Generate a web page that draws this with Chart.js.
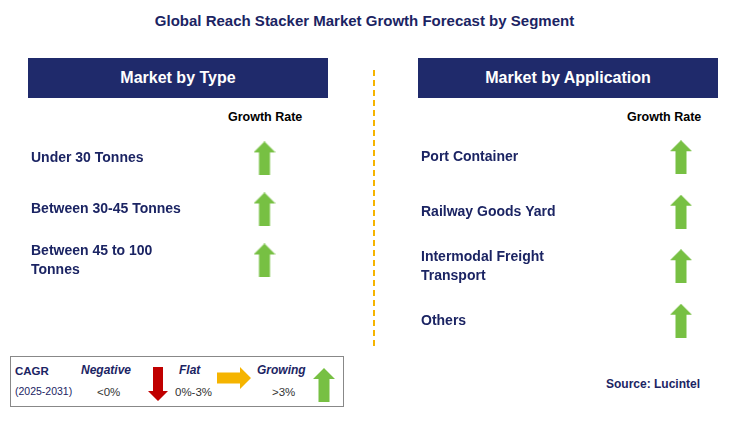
<!DOCTYPE html>
<html><head><meta charset="utf-8">
<script src="https://cdn.jsdelivr.net/npm/chart.js@4.4.0/dist/chart.umd.min.js"></script>
<style>
body{margin:0;width:729px;height:428px;background:#fff;font-family:"Liberation Sans",Arial,sans-serif;position:relative;overflow:hidden;color:#1b2463}
.abs{position:absolute}
.title{left:0;width:729px;top:12px;text-align:center;font-weight:bold;font-size:15px}
.hdr{background:#1f2a6b;color:#fff;font-weight:bold;font-size:16px;text-align:center;line-height:40px;height:40px;top:58px;width:300px}
.gr{font-weight:bold;font-size:12.5px;color:#000;top:110px}
.leg{left:10px;top:356px;width:332px;height:49px;border:1px solid #888}
.leg span{position:absolute;font-size:11.5px}
</style></head><body>
<div class="abs title">Global Reach Stacker Market Growth Forecast by Segment</div>
<div class="abs hdr" style="left:28px">Market by Type</div>
<div class="abs hdr" style="left:418px">Market by Application</div>
<div class="abs gr" style="left:228px">Growth Rate</div>
<div class="abs gr" style="left:627px">Growth Rate</div>
<div class="abs" style="left:373px;top:70px;height:276px;border-left:2px dashed #f5b400"></div>
<div class="abs" style="left:31px;top:114px;width:288px;height:190px"><canvas id="c1"></canvas></div>
<div class="abs" style="left:421px;top:112px;width:316px;height:254px"><canvas id="c2"></canvas></div>
<div class="abs leg">
 <span style="left:4px;top:8px;font-weight:bold">CAGR</span>
 <span style="left:4px;top:28px;font-size:10.5px">(2025-2031)</span>
 <span style="left:70px;top:6px;font-weight:bold;font-style:italic;font-size:12px">Negative</span>
 <span style="left:86px;top:29px;color:#333">&lt;0%</span>
 <canvas id="ld" width="20" height="34" class="abs" style="left:137px;top:10px"></canvas>
 <span style="left:168px;top:6px;font-weight:bold;font-style:italic;font-size:12px">Flat</span>
 <span style="left:164px;top:29px;color:#333">0%-3%</span>
 <canvas id="lf" width="34" height="22" class="abs" style="left:206px;top:10px"></canvas>
 <span style="left:246px;top:6px;font-weight:bold;font-style:italic;font-size:12px">Growing</span>
 <span style="left:261px;top:29px;color:#333">&gt;3%</span>
 <canvas id="lu" width="22" height="34" class="abs" style="left:302px;top:11px"></canvas>
</div>
<div class="abs" style="left:606px;top:377px;font-weight:bold;font-size:12px">Source: Lucintel</div>
<script>
const typeCategories=[["Under 30 Tonnes"],["Between 30-45 Tonnes"],["Between 45 to 100","Tonnes"]];
const typeGrowth=["growing","growing","growing"];
const appCategories=[["Port Container"],["Railway Goods Yard"],["Intermodal Freight","Transport"],["Others"]];
const appGrowth=["growing","growing","growing","growing"];
const legendItems=["negative","flat","growing"];

function arrow(ctx,w,h,dir,color){
  ctx.save();ctx.fillStyle=color;ctx.translate(w/2,h/2);
  if(dir==='down')ctx.rotate(Math.PI);
  if(dir==='right')ctx.rotate(Math.PI/2);
  const L=(dir==='right'?w:h),W=(dir==='right'?h:w);
  ctx.beginPath();
  ctx.moveTo(0,-L/2);ctx.lineTo(W/2,-L/2+W/2);ctx.lineTo(W*0.25,-L/2+W/2);
  ctx.lineTo(W*0.25,L/2);ctx.lineTo(-W*0.25,L/2);ctx.lineTo(-W*0.25,-L/2+W/2);ctx.lineTo(-W/2,-L/2+W/2);
  ctx.closePath();ctx.fill();ctx.restore();
}
function arrowImg(kind){
  const c=document.createElement('canvas');c.width=22;c.height=34;
  arrow(c.getContext('2d'),22,34,'up','#77c043');return c;
}
arrow(document.getElementById('ld').getContext('2d'),20,34,'down','#c00000');
arrow(document.getElementById('lf').getContext('2d'),34,22,'right','#f5b400');
arrow(document.getElementById('lu').getContext('2d'),22,34,'up','#77c043');

function make(id,cats,growth,axisW){
  new Chart(document.getElementById(id),{
    type:'scatter',
    data:{labels:cats,datasets:[{data:cats.map((c,i)=>({x:0,y:i})),
      pointStyle:growth.map(g=>arrowImg(g)),pointRadius:17,pointHoverRadius:17}]},
    options:{responsive:true,maintainAspectRatio:false,animation:false,
      layout:{padding:0},
      plugins:{legend:{display:false},tooltip:{enabled:false}},
      scales:{
        x:{display:false,min:-1,max:1},
        y:{type:'category',labels:cats,offset:true,
          grid:{display:false},border:{display:false},
          afterFit:(s)=>{s.width=axisW;},
          ticks:{autoSkip:false,crossAlign:'far',padding:0,color:'#1b2463',font:{family:'"Liberation Sans", Arial',size:14,weight:'bold',lineHeight:1.35}}}
      }}
  });
}
make('c1',typeCategories,typeGrowth,197);
make('c2',appCategories,appGrowth,222);
</script>
</body></html>
